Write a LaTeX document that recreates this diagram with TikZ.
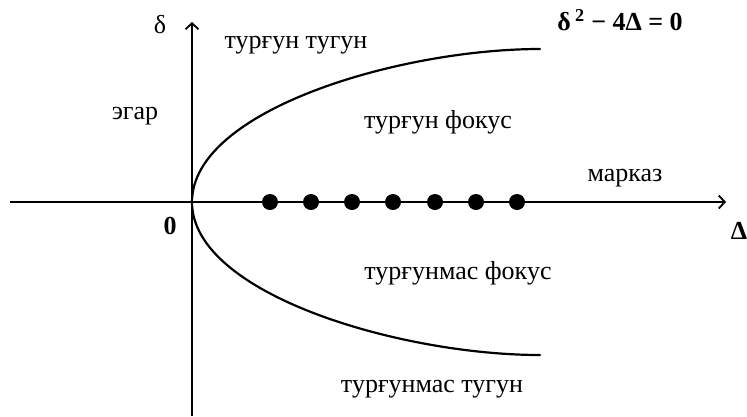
\documentclass[tikz,border=0pt]{standalone}
\usepackage{fontspec}
\setmainfont{Liberation Serif}
\usetikzlibrary{arrows.meta}
\tikzset{
  axis/.style={line width=1.8pt,-{Straight Barb[length=6pt,width=13pt,line width=1.8pt]}},
  curve/.style={line width=2.2pt,line cap=round},
  lbl/.style={font=\fontsize{26}{30}\selectfont,inner sep=0pt},
  eq/.style={font=\fontsize{26}{30}\selectfont\bfseries,inner sep=0pt},
  pt/.style={circle,fill=black,inner sep=0pt,minimum size=16pt}
}
\begin{document}
\begin{tikzpicture}[x=1pt,y=-1pt]
\useasboundingbox (0,0) rectangle (747,416);
\coordinate (xs) at (10,202);
\coordinate (xe) at (726,202);
\coordinate (ys) at (192,416);
\coordinate (ye) at (192,22);
\coordinate (v) at (192,202);
\coordinate (ue) at (540,49);
\coordinate (le) at (540,355);
\draw[axis] (xs) -- (xe);
\draw[axis] (ys) -- (ye);
\draw[curve] (ue) .. controls (400,49) and (192,110) .. (v)
  .. controls (192,294) and (400,355) .. (le);
\foreach \i/\x in {1/270,2/311,3/352,4/393,5/435,6/476,7/517}
  \node[pt] (d\i) at (\x,202) {};
\node[lbl] (delta) at (160,25) {δ};
\node[lbl] (tt) at (296,45) {турғун тугун};
\node[eq] (eqn) at (620,20) {δ\,\textsuperscript{2} − 4Δ = 0};
\node[lbl] (egar) at (135,116) {эгар};
\node[lbl] (tf) at (438,122) {турғун фокус};
\node[lbl] (mk) at (625,178) {марказ};
\node[eq] (Delta) at (739,231) {Δ};
\node[eq] (zero) at (170,226) {0};
\node[lbl] (tmf) at (458,273) {турғунмас фокус};
\node[lbl] (tmt) at (432,389) {турғунмас тугун};
\end{tikzpicture}
\end{document}
